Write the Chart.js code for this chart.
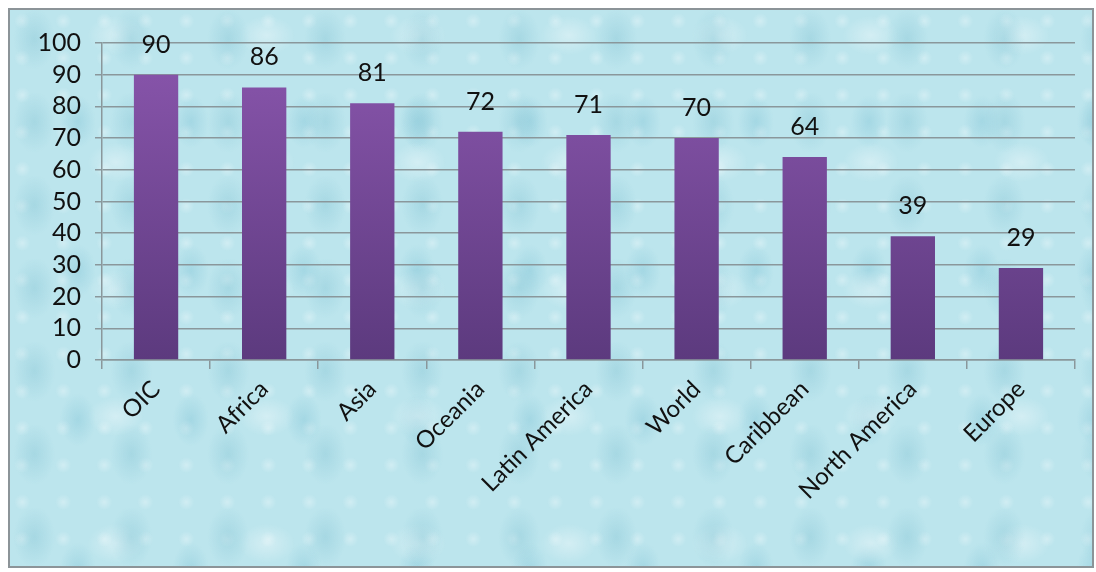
<!DOCTYPE html>
<html>
<head>
<meta charset="utf-8">
<script src="https://cdn.jsdelivr.net/npm/chart.js@4/dist/chart.umd.min.js"></script>
<style>
  html, body { margin: 0; padding: 0; background: #fff; }
  #wrap {
    position: absolute; left: 0; top: 0; width: 1096px; height: 572px;
  }
  #frame {
    position: absolute; left: 8px; top: 8px; width: 1082px; height: 556px;
    border: 2px solid #8c9498;
    background-color: #bce5ed;
    background-image:
      radial-gradient(ellipse 30px 44px at 25% 35%, rgba(140,200,215,0.45), rgba(140,200,215,0) 70%),
      radial-gradient(ellipse 40px 28px at 70% 20%, rgba(255,255,255,0.35), rgba(255,255,255,0) 70%),
      radial-gradient(ellipse 26px 38px at 60% 75%, rgba(120,190,210,0.35), rgba(120,190,210,0) 70%),
      radial-gradient(circle at 30% 30%, rgba(255,255,255,0.3) 0, rgba(255,255,255,0) 8px);
    background-size: 97px 83px, 151px 127px, 113px 149px, 41px 37px;
  }
  canvas { position: absolute; left: 0; top: 0; }
</style>
</head>
<body>
<div id="wrap">
  <div id="frame"></div>
  <canvas id="chart" width="1096" height="572"></canvas>
</div>
<script>
// Data
const regions = ["OIC", "Africa", "Asia", "Oceania", "Latin America", "World", "Caribbean", "North America", "Europe"]
const values = [90, 86, 81, 72, 71, 70, 64, 39, 29]
const yTicks = [0, 10, 20, 30, 40, 50, 60, 70, 80, 90, 100]

const fontFamily = "Lato, 'Open Sans', sans-serif"
const gridGray = "#8a979b"
const textColor = "#111"

// value labels above bars
const valueLabels = {
  id: "valueLabels",
  afterDatasetsDraw(chart) {
    const ctx = chart.ctx
    const meta = chart.getDatasetMeta(0)
    ctx.save()
    ctx.font = "25px " + fontFamily
    ctx.fillStyle = textColor
    ctx.textAlign = "center"
    ctx.textBaseline = "middle"
    meta.data.forEach((bar, i) => {
      ctx.fillText(values[i], bar.x, bar.y - 30)
    })
    ctx.restore()
  }
}

function barGradient(context) {
  const area = context.chart.chartArea
  if (!area) return "#7a4c9e"
  const g = context.chart.ctx.createLinearGradient(0, area.top, 0, area.bottom)
  g.addColorStop(0, "#8a56ad")
  g.addColorStop(1, "#5c3a7e")
  return g
}

const ctx = document.getElementById("chart")
new Chart(ctx, {
  type: "bar",
  data: {
    labels: regions,
    datasets: [{
      data: values,
      backgroundColor: barGradient,
      borderWidth: 0,
      categoryPercentage: 1,
      barPercentage: 0.41
    }]
  },
  options: {
    responsive: false,
    animation: false,
    layout: { padding: { top: 43, right: 21, left: 0, bottom: 0 } },
    plugins: { legend: { display: false }, tooltip: { enabled: false } },
    scales: {
      x: {
        grid: { offset: true, drawOnChartArea: false, tickLength: 9, color: gridGray, lineWidth: 1.5 },
        border: { color: gridGray, width: 1.5 },
        ticks: {
          color: textColor,
          font: { family: fontFamily, size: 24 },
          minRotation: 45, maxRotation: 45,
          autoSkip: false,
          padding: 6
        },
        afterFit(scale) { scale.height = 212 }
      },
      y: {
        min: 0, max: 100,
        afterBuildTicks(scale) { scale.ticks = yTicks.map(v => ({ value: v })) },
        grid: { color: gridGray, lineWidth: 1.5, tickLength: 7 },
        border: { color: gridGray, width: 1.5 },
        ticks: {
          color: textColor,
          font: { family: fontFamily, size: 25, lineHeight: 1 },
          autoSkip: false,
          padding: 14
        },
        afterFit(scale) { scale.width = 102 }
      }
    }
  },
  plugins: [valueLabels]
})
</script>
</body>
</html>
